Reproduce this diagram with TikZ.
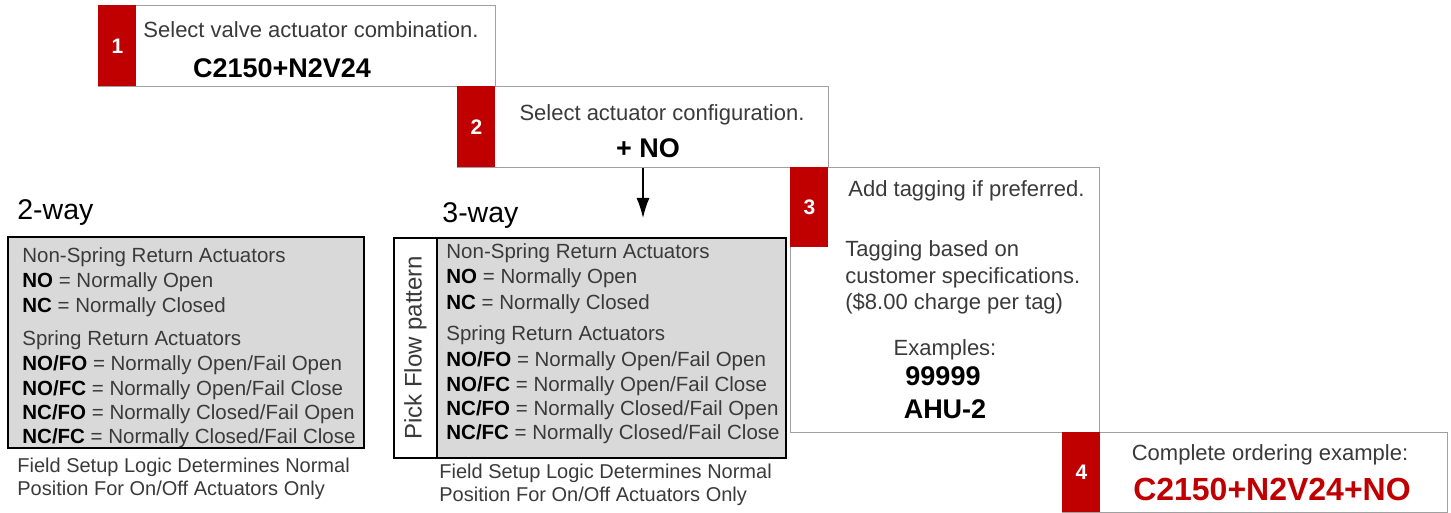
\documentclass[tikz,border=0pt]{standalone}
\usepackage{fontspec}
\setmainfont{Liberation Sans}
\usetikzlibrary{arrows.meta}
\definecolor{tabred}{HTML}{C00000}
\definecolor{legendgray}{HTML}{D9D9D9}
\definecolor{txtgray}{HTML}{3A3A3A}
\definecolor{framegray}{HTML}{A0A0A0}
\tikzset{
  stepbox/.style={draw=framegray, fill=white, line width=0.6pt, inner sep=0pt, anchor=north west},
  tabbox/.style={fill=tabred, inner sep=0pt, anchor=north west, minimum width=19pt, text=white, font=\bfseries\fontsize{10.5}{12}\selectfont},
  steptext/.style={inner sep=0pt, anchor=base, text=txtgray, font=\fontsize{11}{13}\selectfont},
  codetext/.style={inner sep=0pt, anchor=base, text=black, font=\bfseries\fontsize{13.5}{16}\selectfont},
  waytitle/.style={inner sep=0pt, anchor=base west, text=black, font=\fontsize{14.25}{17}\selectfont},
  legendbox/.style={draw=black, fill=legendgray, line width=0.9pt, inner sep=0pt, anchor=north west},
  stripbox/.style={draw=black, fill=white, line width=0.9pt, inner sep=0pt, anchor=north west},
  legendtext/.style={inner sep=0pt, anchor=base west, text=txtgray, font=\fontsize{10.25}{12}\selectfont},
  notetext/.style={inner sep=0pt, anchor=base west, text=txtgray, font=\fontsize{10}{12}\selectfont},
}
\newcommand\legendlines{0/{Non-Spring Return Actuators}, 25/{\textbf{\color{black}NO} = Normally Open}, 50/{\textbf{\color{black}NC} = Normally Closed}, 82/{Spring Return Actuators}, 107/{\textbf{\color{black}NO/FO} = Normally Open/Fail Open}, 132/{\textbf{\color{black}NO/FC} = Normally Open/Fail Close}, 156/{\textbf{\color{black}NC/FO} = Normally Closed/Fail Open}, 180/{\textbf{\color{black}NC/FC} = Normally Closed/Fail Close}}
\begin{document}
\begin{tikzpicture}[x=0.5pt, y=-0.5pt]
\useasboundingbox (0,0) rectangle (1451,513);
% step 1
\node[stepbox, minimum width=198.5pt, minimum height=40.5pt] (s1) at (98,5) {};
\node[tabbox, minimum height=40.5pt] (t1) at (98,5) {1};
\node[steptext] (s1a) at (311,38) {Select valve actuator combination.};
\node[codetext] (s1b) at (282,78) {C2150+N2V24};
% step 2
\node[stepbox, minimum width=185.5pt, minimum height=40.5pt] (s2) at (457,86) {};
\node[tabbox, minimum height=40.5pt] (t2) at (457,86) {2};
\node[steptext] (s2a) at (662,121) {Select actuator configuration.};
\node[codetext] (s2b) at (648,158) {+ NO};
% step 3
\node[stepbox, minimum width=154.5pt, minimum height=132.5pt] (s3) at (790,167) {};
\node[tabbox, minimum height=40pt] (t3) at (790,167) {3};
\node[steptext, anchor=base west] (s3a) at (848,197) {Add tagging if preferred.};
\node[steptext, anchor=base west] (s3b) at (845,257) {Tagging based on};
\node[steptext, anchor=base west] (s3c) at (845,283.5) {customer specifications.};
\node[steptext, anchor=base west] (s3d) at (845,310) {(\$8.00 charge per tag)};
\node[steptext] (s3e) at (945,355) {Examples:};
\node[codetext] (s3f) at (943,385) {99999};
\node[codetext] (s3g) at (945,418) {AHU-2};
% step 4
\node[stepbox, minimum width=192.5pt, minimum height=40pt] (s4) at (1062,432) {};
\node[tabbox, minimum height=40pt] (t4) at (1062,432) {4};
\node[steptext] (s4a) at (1270,460) {Complete ordering example:};
\node[codetext, text=tabred, font=\bfseries\fontsize{16}{19}\selectfont] (s4b) at (1272,500) {C2150+N2V24+NO};
% 2-way legend
\node[waytitle] (w2) at (17,220) {2-way};
\node[legendbox, minimum width=178pt, minimum height=105.5pt] (lg2) at (7,236) {};
\foreach \dy/\txt [count=\i] in \legendlines
  \node[legendtext] (l2-\i) at (22,263+\dy) {\txt};
\node[notetext] (n2a) at (17,472) {Field Setup Logic Determines Normal};
\node[notetext] (n2b) at (17,495) {Position For On/Off Actuators Only};
% 3-way legend
\node[waytitle] (w3) at (442,223) {3-way};
\node[legendbox, minimum width=196pt, minimum height=110pt] (lg3) at (393,237) {};
\node[stripbox, minimum width=21.5pt, minimum height=110pt] (st3) at (393,237) {};
\node[rotate=90, inner sep=0pt, text=txtgray, font=\fontsize{12}{14}\selectfont] (pick) at (st3.center) {Pick Flow pattern};
\foreach \dy/\txt [count=\i] in \legendlines
  \node[legendtext] (l3-\i) at (446,259+\dy) {\txt};
\node[notetext] (n3a) at (439,478) {Field Setup Logic Determines Normal};
\node[notetext] (n3b) at (439,501) {Position For On/Off Actuators Only};
% arrow from step 2
\coordinate (tip) at (643,218);
\draw[line width=0.75pt, -{Latex[width=6.5pt,length=10pt]}] (s2.south -| tip) -- (tip);
\end{tikzpicture}
\end{document}
